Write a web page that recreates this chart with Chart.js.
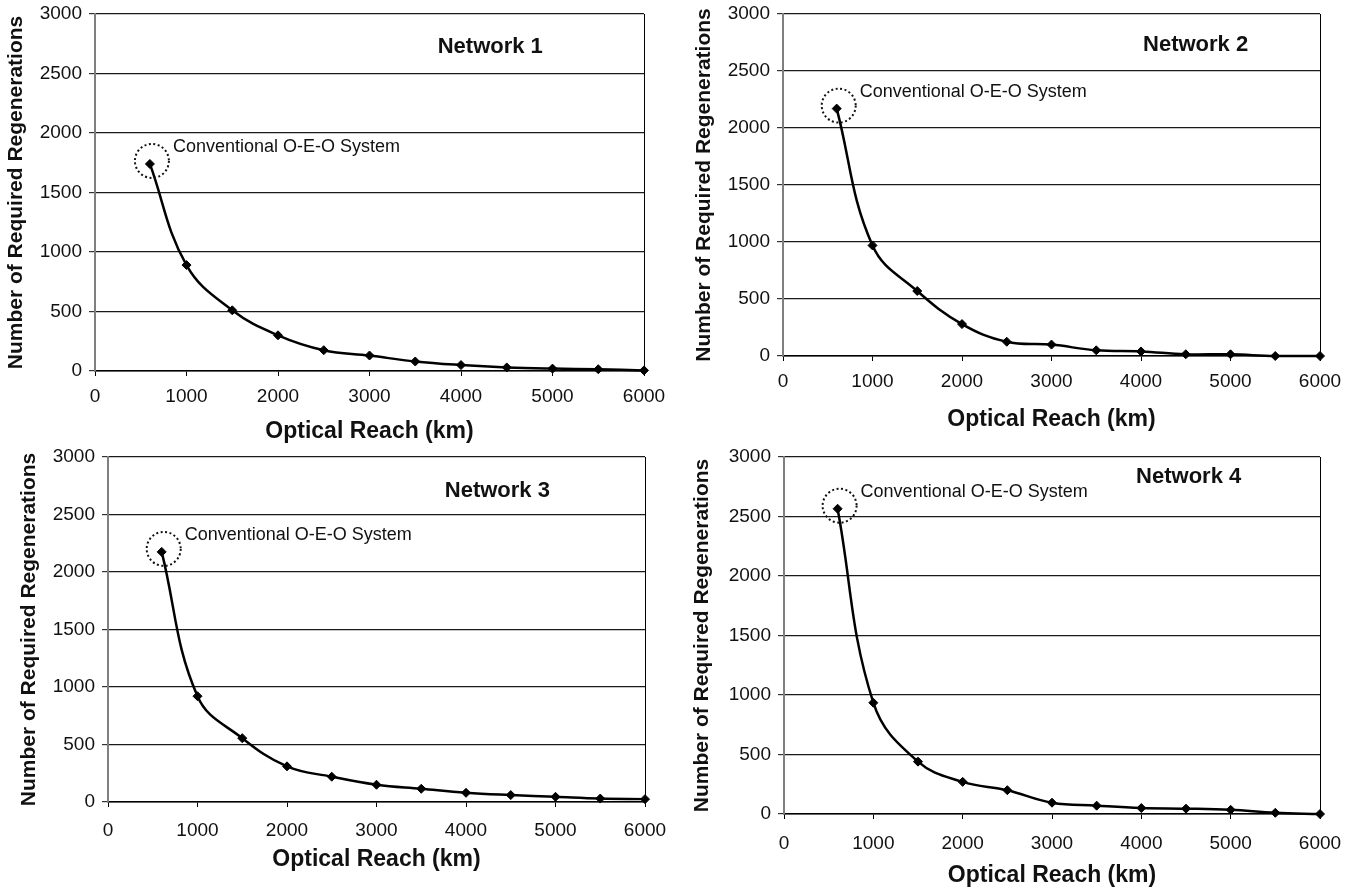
<!DOCTYPE html>
<html>
<head>
<meta charset="utf-8">
<script src="https://cdn.jsdelivr.net/npm/chart.js@4.4.1/dist/chart.umd.min.js"></script>
<style>
  body { margin: 0; background: #fff; width: 1364px; height: 889px; position: relative; overflow: hidden; }
  canvas { position: absolute; }
</style>
</head>
<body>
<canvas id="net1" width="682" height="445" style="left:0;top:0"></canvas>
<canvas id="net2" width="682" height="445" style="left:682px;top:0"></canvas>
<canvas id="net3" width="682" height="444" style="left:0;top:445px"></canvas>
<canvas id="net4" width="682" height="444" style="left:682px;top:445px"></canvas>
<script>
// ===== Data =====
const reachKm = [600, 1000, 1500, 2000, 2500, 3000, 3500, 4000, 4500, 5000, 5500, 6000];
const regenNet1 = [1740, 890, 510, 300, 175, 130, 80, 50, 30, 20, 15, 5];
const regenNet2 = [2170, 970, 570, 280, 125, 100, 50, 40, 15, 15, 0, 0];
const regenNet3 = [2175, 920, 555, 310, 220, 150, 115, 80, 60, 45, 30, 25];
const regenNet4 = [2565, 935, 440, 270, 200, 95, 70, 50, 45, 35, 10, 0];

const xTickValues = [0, 1000, 2000, 3000, 4000, 5000, 6000];
const yTickValues = [0, 500, 1000, 1500, 2000, 2500, 3000];
const networkNames = ['Network 1', 'Network 2', 'Network 3', 'Network 4'];
const calloutText = 'Conventional O-E-O System';
const xTitle = 'Optical Reach (km)';
const yTitle = 'Number of Required Regenerations';

const FONT = '"Liberation Sans", Arial, Helvetica, sans-serif';
const INK = '#111';

// Per-panel layout (pixel boxes, paddings, where the "Network n" tag sits)
const panelLayout = [
    { id: 'net1', values: regenNet1, yW: 95,  padTop: 14, padRight: 38, xH: 74, yTitlePad: 4,  xTitlePad: 0,  xTickPad: 9,  tagAt: [4320, 2720] },
    { id: 'net2', values: regenNet2, yW: 101, padTop: 14, padRight: 44, xH: 89, yTitlePad: 10, xTitlePad: 12, xTickPad: 9,  tagAt: [4610, 2730] },
    { id: 'net3', values: regenNet3, yW: 108, padTop: 12, padRight: 37, xH: 87, yTitlePad: 17, xTitlePad: 16, xTickPad: 12, tagAt: [4350, 2705] },
    { id: 'net4', values: regenNet4, yW: 102, padTop: 12, padRight: 44, xH: 75, yTitlePad: 8,  xTitlePad: 0,  xTickPad: 13, tagAt: [4530, 2830] }
];

// Dotted circle + label around the first (O-E-O) point, plus the network tag
const calloutPlugin = {
    id: 'callout',
    afterDatasetsDraw(chart, args, opts) {
        const ctx = chart.ctx;
        const first = chart.getDatasetMeta(0).data[0];
        ctx.save();
        ctx.strokeStyle = INK;
        ctx.lineWidth = 2;
        ctx.setLineDash([2, 2.5]);
        ctx.beginPath();
        ctx.arc(first.x + 2, first.y - 3, 17, 0, Math.PI * 2);
        ctx.stroke();
        ctx.setLineDash([]);

        ctx.fillStyle = INK;
        ctx.textBaseline = 'middle';
        ctx.textAlign = 'left';
        ctx.font = '18px ' + FONT;
        ctx.fillText(calloutText, first.x + 23, first.y - 17);

        ctx.textAlign = 'center';
        ctx.font = 'bold 22px ' + FONT;
        const sx = chart.scales.x, sy = chart.scales.y;
        ctx.fillText(opts.name, sx.getPixelForValue(opts.tagAt[0]), sy.getPixelForValue(opts.tagAt[1]));
        ctx.restore();
    }
};

function createPanel(p, idx) {
    const ctx = document.getElementById(p.id);
    return new Chart(ctx, {
        type: 'line',
        data: {
            datasets: [{
                data: reachKm.map((km, i) => ({ x: km, y: p.values[i] })),
                borderColor: '#000',
                borderWidth: 2.5,
                tension: 0.4,
                pointStyle: 'rectRot',
                pointRadius: 4.5,
                pointBackgroundColor: '#000',
                pointBorderColor: '#000',
                pointBorderWidth: 1,
                clip: false
            }]
        },
        options: {
            responsive: false,
            animation: false,
            layout: { padding: { top: p.padTop, right: p.padRight, left: 0, bottom: 0 } },
            scales: {
                x: {
                    type: 'linear',
                    min: 0,
                    max: 6000,
                    afterBuildTicks: s => { s.ticks = xTickValues.map(v => ({ value: v })); },
                    afterFit: s => { s.height = p.xH; s.paddingLeft = 0; s.paddingRight = 0; },
                    grid: {
                        drawOnChartArea: true,
                        color: c => (c.tick && c.tick.value === 6000) ? '#000' : 'rgba(0,0,0,0)',
                        tickColor: '#000',
                        tickLength: 5,
                        lineWidth: 1
                    },
                    border: { color: '#000', width: 1.5 },
                    ticks: { color: INK, padding: p.xTickPad, font: { size: 19, family: FONT }, callback: v => String(v) },
                    title: {
                        display: true,
                        text: xTitle,
                        color: INK,
                        padding: { top: 0, bottom: p.xTitlePad },
                        font: { size: 23, weight: 'bold', family: FONT }
                    }
                },
                y: {
                    type: 'linear',
                    min: 0,
                    max: 3000,
                    afterBuildTicks: s => { s.ticks = yTickValues.map(v => ({ value: v })); },
                    afterFit: s => { s.width = p.yW; s.paddingTop = 0; s.paddingBottom = 0; },
                    grid: { color: '#1a1a1a', lineWidth: 1.2, tickColor: '#333', tickLength: 6 },
                    border: { color: '#7f7f7f', width: 2 },
                    ticks: { color: INK, padding: 7, font: { size: 19, family: FONT }, callback: v => String(v) },
                    title: {
                        display: true,
                        text: yTitle,
                        color: INK,
                        padding: { top: p.yTitlePad, bottom: 0 },
                        font: { size: 21, weight: 'bold', family: FONT }
                    }
                }
            },
            plugins: {
                legend: { display: false },
                tooltip: { enabled: false },
                callout: { name: networkNames[idx], tagAt: p.tagAt }
            }
        },
        plugins: [calloutPlugin]
    });
}

panelLayout.forEach(createPanel);
</script>
</body>
</html>
